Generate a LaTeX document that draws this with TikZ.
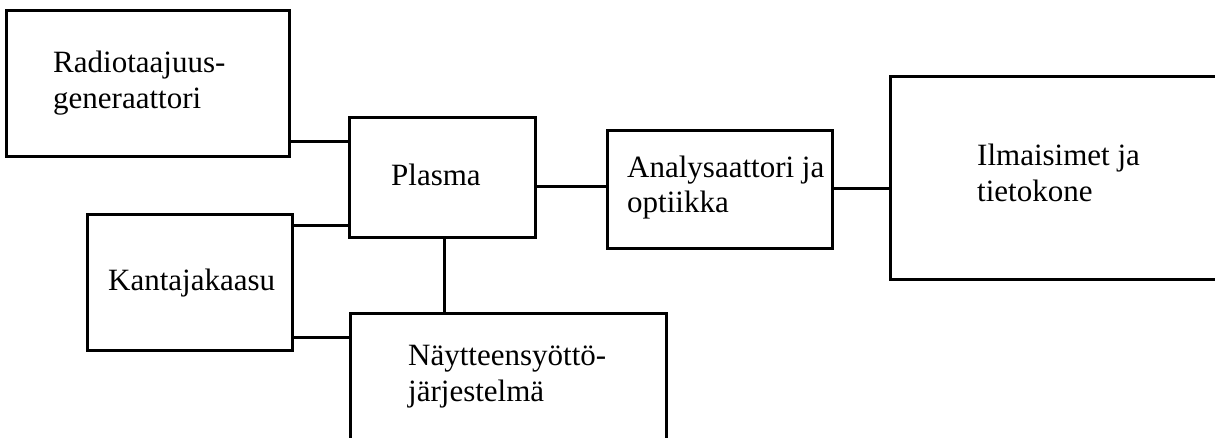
\documentclass[tikz,border=0pt]{standalone}
\usepackage{fontspec}
\setmainfont{Liberation Serif}
\begin{document}
\begin{tikzpicture}[x=1pt,y=-1pt,
  box/.style={draw=black,line width=3pt,inner sep=0pt,outer sep=0pt,fill=white},
  txt/.style={anchor=base west,inner sep=0pt,font=\fontsize{31}{36}\selectfont},
  conn/.style={draw=black,line width=3pt}]
\useasboundingbox (0,0) rectangle (1215,437);
\clip (0,0) rectangle (1215,437);
% boxes
\node[box,minimum width=283.5pt,minimum height=146pt] (radio) at (148,83) {};
\node[box,minimum width=186pt,minimum height=120pt] (plasma) at (442,177) {};
\node[box,minimum width=225pt,minimum height=118pt] (analys) at (720,189) {};
\node[box,minimum width=350pt,minimum height=203pt] (ilm) at (1065,178) {};
\node[box,minimum width=205pt,minimum height=136pt] (kanta) at (190,282) {};
\node[box,minimum width=316pt,minimum height=167pt] (nayt) at (508,397) {};
% texts
\node[txt] (radioA) at (53,72) {Radiotaajuus-};
\node[txt] (radioB) at (53,108) {generaattori};
\node[txt] (plasmaT) at (391,185) {Plasma};
\node[txt] (analysA) at (627,177) {Analysaattori ja};
\node[txt] (analysB) at (627,212) {optiikka};
\node[txt] (ilmA) at (977,165) {Ilmaisimet ja};
\node[txt] (ilmB) at (977,201) {tietokone};
\node[txt] (kantaT) at (108,290) {Kantajakaasu};
\node[txt] (naytA) at (408,365) {Näytteensyöttö-};
\node[txt] (naytB) at (408,401) {järjestelmä};
% connectors
\draw[conn] (radio.east |- {(0,141)}) -- (plasma.west |- {(0,141)});
\draw[conn] (kanta.east |- {(0,225)}) -- (plasma.west |- {(0,225)});
\draw[conn] (kanta.east |- {(0,337)}) -- (nayt.west |- {(0,337)});
\draw[conn] (plasma.south -| {(444,0)}) -- (nayt.north -| {(444,0)});
\draw[conn] (plasma.east |- {(0,186)}) -- (analys.west |- {(0,186)});
\draw[conn] (analys.east |- {(0,188)}) -- (ilm.west |- {(0,188)});
\end{tikzpicture}
\end{document}
